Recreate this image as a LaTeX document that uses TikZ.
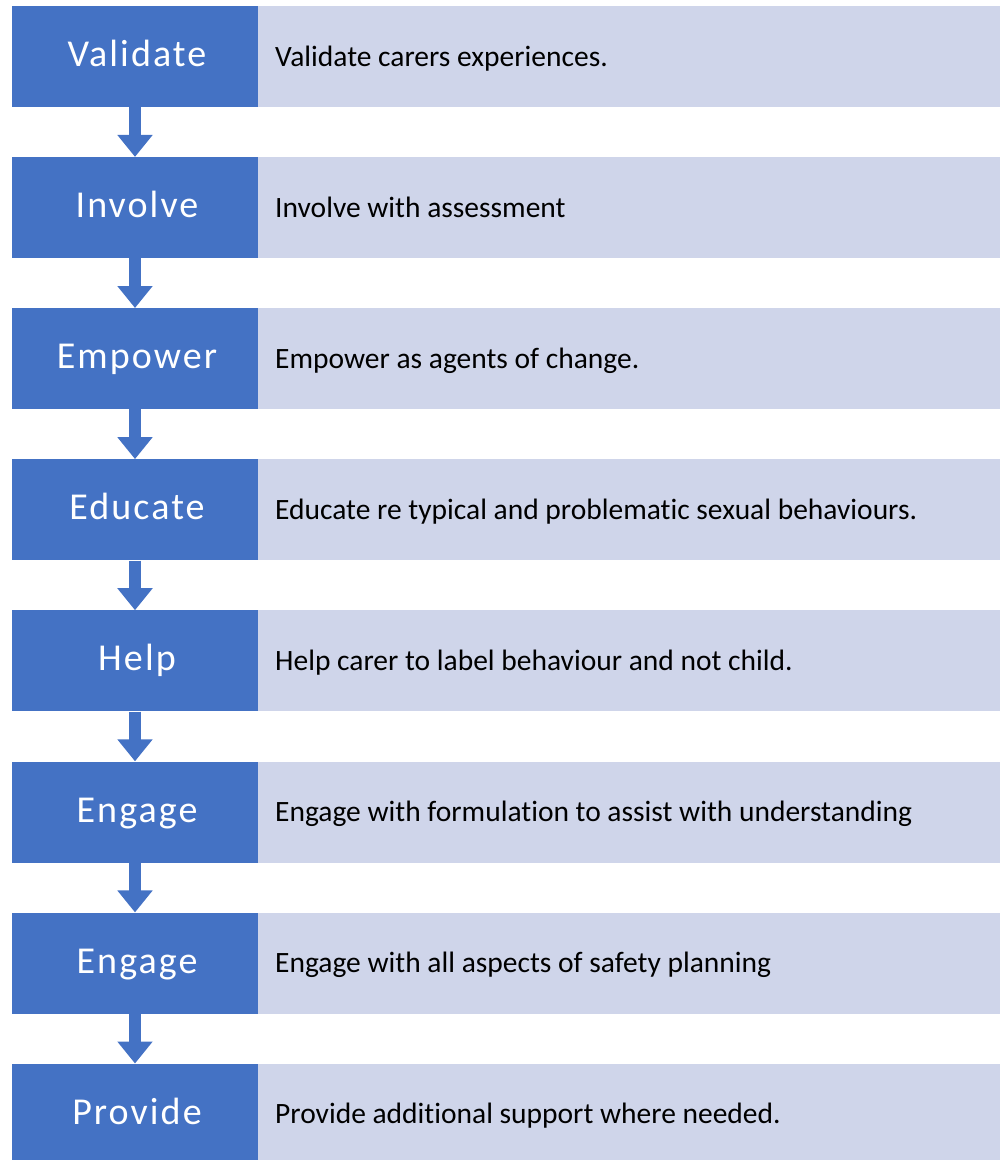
\documentclass[tikz,border=0pt]{standalone}
\usepackage{fontspec}
\setmainfont{Carlito}[Ligatures={NoCommon}]
\newfontfamily\keyfont{Carlito}[LetterSpace=5.5]
\usetikzlibrary{arrows.meta}
\definecolor{stepblue}{HTML}{4472C4}
\definecolor{steplight}{HTML}{CFD5EA}
\begin{document}
\begin{tikzpicture}[x=1pt,y=-1pt,
  keybox/.style={fill=stepblue, draw=none, minimum width=246pt, minimum height=101pt,
    inner sep=0pt},
  keytext/.style={text=white, inner sep=0pt, anchor=base, font=\keyfont\fontsize{38}{38}\selectfont},
  descbox/.style={fill=steplight, draw=none, minimum width=742pt, minimum height=101pt,
    inner sep=0pt},
  desctext/.style={anchor=base west, inner sep=0pt, font=\fontsize{29.5}{29.5}\selectfont},
  flow/.style={draw=stepblue, line width=12pt, -{Triangle[width=34pt,length=22pt]}}]
\useasboundingbox (0,0) rectangle (1002,1160);
\clip (0,0) rectangle (1002,1160);
\foreach \i/\k/\t in {
  1/Validate/{Validate carers experiences.},
  2/Involve/{Involve with assessment},
  3/Empower/{Empower as agents of change.},
  4/Educate/{Educate re typical and problematic sexual behaviours.},
  5/Help/{Help carer to label behaviour and not child.},
  6/Engage/{Engage with formulation to assist with understanding},
  7/Engage/{Engage with all aspects of safety planning},
  8/Provide/{Provide additional support where needed.}}{
  \pgfmathsetmacro{\cy}{56.5+151.1*(\i-1)}
  \node[descbox] (d\i) at (629,\cy) {};
  \node[keybox] (k\i) at (135,\cy) {};
  \node[keytext] (kl\i) at (137,\cy+10) {\k};
  \node[desctext] (t\i) at (275,\cy+9.5) {\t};
}
\foreach \i [evaluate=\i as \j using int(\i+1)] in {1,...,7}{
  \draw[flow] (k\i.south) -- (k\j.north);
}
\end{tikzpicture}
\end{document}
